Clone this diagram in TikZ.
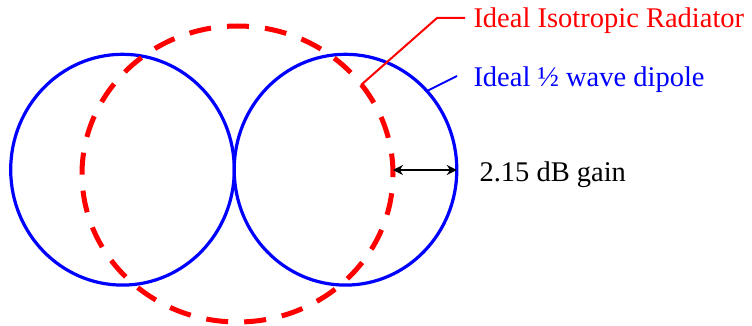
\documentclass[tikz,border=0pt]{standalone}
\usepackage{fontspec}
\setmainfont{Liberation Serif}
\usetikzlibrary{arrows.meta}
\definecolor{pblue}{RGB}{0,0,255}
\definecolor{pred}{RGB}{255,0,0}
\begin{document}
\begin{tikzpicture}[x=1pt,y=1pt,
  dipole/.style={draw=pblue,line width=3.2pt},
  iso/.style={draw=pred,line width=5pt,dash pattern=on 22pt off 16.08pt,dash phase=1.5pt},
  lbl/.style={inner sep=0pt,anchor=base west,font=\fontsize{28.5}{34}\selectfont},
  leader/.style={line width=2pt},
  gainarrow/.style={line width=2.4pt,{Stealth[length=10pt,width=10pt]}-{Stealth[length=10pt,width=10pt]}}]
\useasboundingbox (0,0) rectangle (752,-326);
% dipole lobes
\draw[dipole] (122.5,-169.7) ellipse [x radius=111.8pt, y radius=115.4pt];
\draw[dipole] (345.5,-169.7) ellipse [x radius=111.3pt, y radius=115.4pt];
% isotropic radiator
\draw[iso] (237.5,-174) ellipse [x radius=155.5pt, y radius=148pt];
% named points
\coordinate (isoR) at (393,-170);
\coordinate (dipR) at (456.8,-170);
\coordinate (dipPt) at (427,-91);
\coordinate (isoPt) at (361,-85);
\coordinate (redBend) at (437,-18);
\coordinate (redStart) at (465,-18);
\coordinate (blueStart) at (457,-76);
% labels
\node[lbl,text=pred] (isolbl) at (473.3,-28) {Ideal Isotropic Radiator};
\node[lbl,text=pblue] (diplbl) at (473.3,-87) {Ideal ½ wave dipole};
\node[lbl,text=black] (gainlbl) at (479.3,-181) {2.15 dB gain};
% leaders
\draw[leader,pred] (redStart) -- (redBend) -- (isoPt);
\draw[leader,pblue] (blueStart) -- (dipPt);
% gain arrow
\draw[gainarrow] (isoR) -- (dipR);
\end{tikzpicture}
\end{document}
